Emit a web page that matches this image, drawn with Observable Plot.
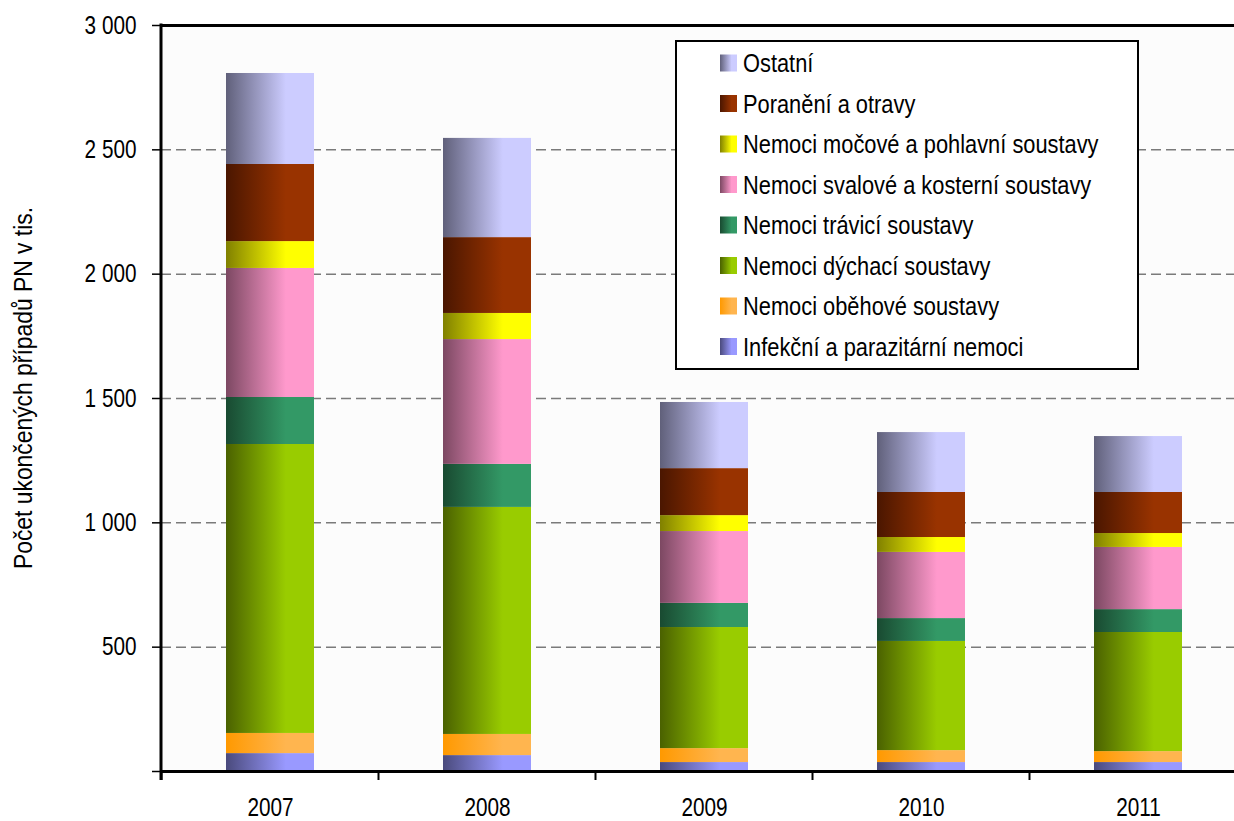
<!DOCTYPE html>
<html>
<head>
<meta charset="utf-8">
<script src="https://cdn.jsdelivr.net/npm/d3@7"></script>
<script src="https://cdn.jsdelivr.net/npm/@observablehq/plot@0.6"></script>
<style>
  html, body { margin: 0; padding: 0; background: white; }
</style>
</head>
<body>
<div id="chart"></div>
<script>
// ---- Data (thousands of finished sick-leave cases) ----
const years = ["2007", "2008", "2009", "2010", "2011"];
const categories = [
  "Infekční a parazitární nemoci",
  "Nemoci oběhové soustavy",
  "Nemoci dýchací soustavy",
  "Nemoci trávicí soustavy",
  "Nemoci svalové a kosterní soustavy",
  "Nemoci močové a pohlavní soustavy",
  "Poranění a otravy",
  "Ostatní"
];
const infekcni = [72, 64, 36, 36, 36];
const obehove  = [81, 85, 56, 48, 44];
const dychaci  = [1162, 913, 487, 439, 479];
const travici  = [189, 173, 97, 92, 92];
const svalove  = [519, 502, 289, 266, 250];
const mocove   = [108, 105, 64, 60, 56];
const poraneni = [310, 305, 189, 181, 165];
const ostatni  = [366, 399, 266, 241, 225];
const series = [infekcni, obehove, dychaci, travici, svalove, mocove, poraneni, ostatni];

const colorsLight = ["#9999FF", "#FFB54F", "#99CC00", "#339966", "#FF99CC", "#FFFF00", "#993300", "#CCCCFF"];
const colorsDark  = ["#4A4A7C", "#FF9900", "#4A6100", "#194A31", "#7C4862", "#808000", "#4A1600", "#60607A"];

const yTicks = [0, 500, 1000, 1500, 2000, 2500, 3000];
const gridValues = [500, 1000, 1500, 2000, 2500];
const yLabel = "Počet ukončených případů PN v tis.";

const data = [];
years.forEach((yr, j) => {
  series.forEach((s, i) => {
    data.push({year: yr, cat: categories[i], idx: i, value: s[j]});
  });
});

const FONT = "'Liberation Sans', Arial, sans-serif";
const NARROW = 0.83;
const fmt = d => d === 0 ? "" : d3.format(",")(d).replace(/,/g, " ");

const chart = Plot.plot({
  width: 1234,
  height: 821,
  marginLeft: 161,
  marginRight: 0,
  marginTop: 25,
  marginBottom: 50,
  style: {fontFamily: FONT, fontSize: "25px", color: "black", background: "white", overflow: "visible"},
  x: {domain: years, range: [161, 1247], paddingInner: 0.595, paddingOuter: 0.2975, label: null},
  y: {domain: [0, 3000], label: null},
  color: {type: "identity"},
  marks: [
    Plot.frame({fill: "#fcfcfc", stroke: null}),
    Plot.ruleY(gridValues, {stroke: "#7a7a7a", strokeWidth: 1.5, strokeDasharray: "10,5"}),
    Plot.barY(data, {x: "year", y: "value", fill: d => `url(#grad${d.idx})`}),
    Plot.ruleY([0, 3000], {stroke: "black", strokeWidth: 3}),
    Plot.axisY({ticks: yTicks, tickSize: 9, tickPadding: 16, tickFormat: fmt, label: null, strokeWidth: 1.5}),
    Plot.axisX({tickSize: 0, tickPadding: 27, label: null})
  ]
});

document.getElementById("chart").appendChild(chart);

const svg = d3.select(chart);

// Condense axis text horizontally (narrow face look), scaling about each text's anchor x
svg.selectAll("text").each(function() {
  const el = this;
  let x = parseFloat(el.getAttribute("x"));
  if (!isFinite(x)) x = 0;
  const t = el.getAttribute("transform") || "";
  el.setAttribute("transform", `${t} translate(${x},0) scale(${NARROW},1) translate(${-x},0)`);
});

const defs = svg.insert("defs", ":first-child");
colorsLight.forEach((c, i) => {
  const g = defs.append("linearGradient")
    .attr("id", `grad${i}`)
    .attr("x1", 0).attr("y1", 0).attr("x2", 1).attr("y2", 0);
  g.append("stop").attr("offset", 0).attr("stop-color", colorsDark[i]);
  g.append("stop").attr("offset", 0.68).attr("stop-color", c);
  g.append("stop").attr("offset", 1).attr("stop-color", c);
});

// Axis lines and category boundary ticks
const xs = chart.scale("x");
const ys = chart.scale("y");
const y0 = ys.apply(0), y3 = ys.apply(3000);
const x0 = xs.range[0];
svg.append("line").attr("x1", x0).attr("x2", x0).attr("y1", y3 - 1.5).attr("y2", y0 + 9)
  .attr("stroke", "black").attr("stroke-width", 3);
const step = xs.step, bw = xs.bandwidth;
const bounds = years.map(yr => xs.apply(yr) - (step - bw) / 2).concat([xs.apply(years[years.length - 1]) + bw + (step - bw) / 2]);
bounds.forEach(b => {
  svg.append("line").attr("x1", b).attr("x2", b).attr("y1", y0).attr("y2", y0 + 9)
    .attr("stroke", "black").attr("stroke-width", 2);
});

// Y axis title
svg.append("text")
  .attr("transform", `translate(25, 388) rotate(-90) scale(0.88,1)`)
  .attr("text-anchor", "middle")
  .attr("dominant-baseline", "middle")
  .style("font-family", FONT)
  .style("font-size", "26px")
  .text(yLabel);

// Legend (top item = last category)
const lg = svg.append("g").attr("text-anchor", "start");
lg.append("rect").attr("x", 676).attr("y", 41).attr("width", 462).attr("height", 328)
  .attr("fill", "white").attr("stroke", "black").attr("stroke-width", 2);
const order = categories.map((c, i) => i).reverse();
order.forEach((ci, k) => {
  const cy = 63 + k * 40.5;
  lg.append("rect").attr("x", 720).attr("y", cy - 8.5).attr("width", 17).attr("height", 17)
    .attr("fill", `url(#grad${ci})`);
  lg.append("text")
    .attr("transform", `translate(743, ${cy}) scale(0.84,1)`)
    .attr("text-anchor", "start")
    .attr("dominant-baseline", "central")
    .style("font-family", FONT).style("font-size", "26px")
    .text(categories[ci]);
});
</script>
</body>
</html>
